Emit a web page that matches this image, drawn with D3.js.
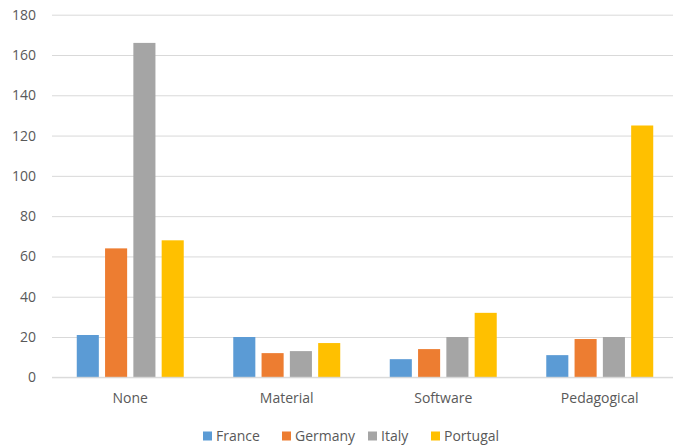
<!DOCTYPE html>
<html>
<head>
<meta charset="utf-8">
<script src="https://cdn.jsdelivr.net/npm/d3@7"></script>
<style>
  html, body { margin: 0; padding: 0; background: #fff; }
  svg { display: block; }
  text { font-family: "Open Sans", "Noto Sans", sans-serif; fill: #595959; }
</style>
</head>
<body>
<svg id="chart" width="673" height="448"></svg>
<script>
const categories = ["None", "Material", "Software", "Pedagogical"];
const seriesNames = ["France", "Germany", "Italy", "Portugal"];
const france = [21, 20, 9, 11];
const germany = [64, 12, 14, 19];
const italy = [166, 13, 20, 20];
const portugal = [68, 17, 32, 125];
const yTicks = [0, 20, 40, 60, 80, 100, 120, 140, 160, 180];
const colors = ["#5B9BD5", "#ED7D31", "#A5A5A5", "#FFC000"];

(function () {
const seriesValues = [france, germany, italy, portugal];
const data = categories.map((c, i) => ({
  category: c,
  values: seriesNames.map((s, j) => ({ series: s, value: seriesValues[j][i] }))
}));

const svg = d3.select("#chart");
const W = 673;
const mLeft = 52, mRight = 678, mTop = 14.7, mBottom = 377.3;

const x0 = d3.scaleBand().domain(categories).range([mLeft, mRight]).paddingInner(0).paddingOuter(0);
const groupHalf = 56.6;
const x1 = d3.scaleBand().domain(seriesNames).range([-groupHalf, groupHalf]).paddingInner(0.22).paddingOuter(0.11);
const y = d3.scaleLinear().domain([0, 180]).range([mBottom, mTop]);
const color = d3.scaleOrdinal().domain(seriesNames).range(colors);

// gridlines
const yAxis = d3.axisLeft(y).tickValues(yTicks).tickSize(-(W - mLeft)).tickPadding(16).tickFormat(d3.format("d"));
const gy = svg.append("g").attr("transform", `translate(${mLeft},0)`).call(yAxis);
gy.select(".domain").remove();
gy.selectAll(".tick line").attr("stroke", "#D9D9D9").attr("stroke-width", 1);
gy.selectAll(".tick text").attr("font-size", 14).attr("fill", "#595959")
  .attr("font-family", "'Open Sans', sans-serif");

// bars
const groups = svg.append("g").selectAll("g").data(data).join("g")
  .attr("transform", d => `translate(${x0(d.category) + x0.bandwidth() / 2},0)`);
groups.selectAll("rect").data(d => d.values).join("rect")
  .attr("x", d => x1(d.series))
  .attr("width", x1.bandwidth())
  .attr("y", d => y(d.value))
  .attr("height", d => y(0) - y(d.value))
  .attr("fill", d => color(d.series));

// x axis labels
const xAxis = d3.axisBottom(x0).tickSize(0).tickPadding(16);
const gx = svg.append("g").attr("transform", `translate(0,${mBottom})`).call(xAxis);
gx.select(".domain").remove();
gx.selectAll(".tick text").attr("font-size", 14).attr("fill", "#595959")
  .attr("font-family", "'Open Sans', sans-serif");

// baseline
svg.append("line").attr("x1", mLeft).attr("x2", W).attr("y1", y(0)).attr("y2", y(0))
  .attr("stroke", "#D9D9D9").attr("stroke-width", 1);

// legend
const legendX = [203, 282, 368, 431];
const legend = svg.append("g").selectAll("g").data(seriesNames).join("g")
  .attr("transform", (d, i) => `translate(${legendX[i]},436)`);
legend.append("rect").attr("x", 0).attr("y", -4.5).attr("width", 9).attr("height", 9)
  .attr("fill", d => color(d));
legend.append("text").attr("x", 13).attr("y", 0).attr("dy", "0.35em")
  .attr("font-size", 14).text(d => d);
})();
</script>
</body>
</html>
